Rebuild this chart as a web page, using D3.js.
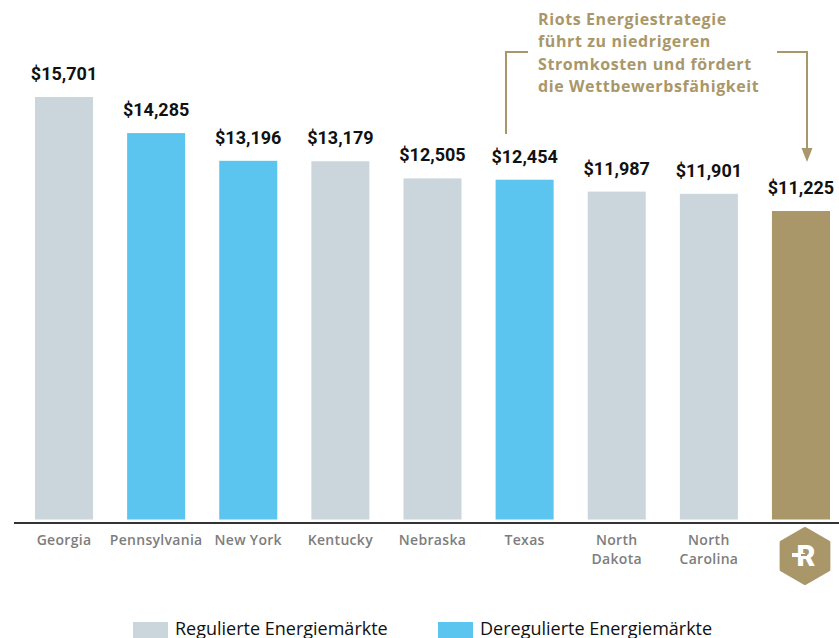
<!DOCTYPE html>
<html lang="de">
<head>
    <meta charset="UTF-8">
    <title>Stromkosten</title>
    <script src="https://d3js.org/d3.v7.min.js"></script>
    <style>
        html, body {
            padding: 0;
            margin: 0;
            background: #fff;
            font-family: "Open Sans", sans-serif;
        }
    </style>
</head>
<body>
<script>
    // daten
    const states = ["Georgia", "Pennsylvania", "New York", "Kentucky", "Nebraska", "Texas", "North Dakota", "North Carolina", "Riot"];
    const costs = [15701, 14285, 13196, 13179, 12505, 12454, 11987, 11901, 11225];
    const market = ["reg", "dereg", "dereg", "reg", "reg", "dereg", "reg", "reg", "riot"];
    const legendLabels = ["Regulierte Energiemärkte", "Deregulierte Energiemärkte"];
    const noteLines = ["Riots Energiestrategie", "führt zu niedrigeren", "Stromkosten und fördert", "die Wettbewerbsfähigkeit"];

    const width = 839, height = 638;
    const colors = {reg: "#cbd6dc", dereg: "#5bc5f0", riot: "#a99769"};
    const gold = "#a99769";

    const svg = d3.select("body").append("svg")
        .attr("width", width)
        .attr("height", height);

    const x = d3.scaleBand()
        .domain(states)
        .range([35, 830])
        .paddingInner(0.37)
        .paddingOuter(0);

    // achse faengt nicht bei null an
    const y = d3.scaleLinear()
        .domain([-884, 15701])
        .range([519.5, 97]);

    svg.append("g")
        .selectAll("rect")
        .data(states)
        .join("rect")
        .attr("x", d => x(d))
        .attr("width", x.bandwidth())
        .attr("y", (d, i) => y(costs[i]))
        .attr("height", (d, i) => y(-884) - y(costs[i]))
        .attr("fill", (d, i) => colors[market[i]]);

    svg.append("g")
        .selectAll("text")
        .data(states)
        .join("text")
        .attr("x", d => x(d) + x.bandwidth() / 2)
        .attr("y", (d, i) => y(costs[i]) - 17)
        .attr("text-anchor", "middle")
        .style("font-family", "Roboto, sans-serif")
        .style("font-size", "18px")
        .style("font-weight", "bold")
        .style("fill", "#111")
        .text((d, i) => "$" + d3.format(",")(costs[i]));

    // x-achse
    svg.append("line")
        .attr("x1", 14).attr("x2", width)
        .attr("y1", 523).attr("y2", 523)
        .attr("stroke", "#333")
        .attr("stroke-width", 2);

    const catLabels = svg.append("g")
        .selectAll("text")
        .data(states.slice(0, 8))
        .join("text")
        .attr("x", d => x(d) + x.bandwidth() / 2)
        .attr("y", 545)
        .attr("text-anchor", "middle")
        .style("font-size", "14px")
        .style("font-weight", 600)
        .style("letter-spacing", "0.3px")
        .style("fill", "#7d7d7d");

    catLabels.each(function(d) {
        const words = d.startsWith("North") ? d.split(" ") : [d];
        d3.select(this).selectAll("tspan")
            .data(words)
            .join("tspan")
            .attr("x", x(d) + x.bandwidth() / 2)
            .attr("dy", (w, i) => i === 0 ? 0 : 19)
            .text(w => w);
    });

    // riot logo
    const cx = x("Riot") + x.bandwidth() / 2 + 4, cy = 556, r = 27;
    const hex = d3.range(6).map(i => {
        const a = Math.PI / 3 * i - Math.PI / 2;
        return [cx + r * Math.cos(a), cy + r * Math.sin(a)];
    });
    svg.append("path")
        .attr("d", d3.line()(hex) + "Z")
        .attr("fill", gold)
        .attr("stroke", gold)
        .attr("stroke-width", 4)
        .attr("stroke-linejoin", "round");
    svg.append("text")
        .attr("x", cx + 1)
        .attr("y", cy + 10)
        .attr("text-anchor", "middle")
        .style("font-family", "Roboto, sans-serif")
        .style("font-size", "29px")
        .style("font-weight", 900)
        .style("fill", "#fff")
        .text("R");
    svg.append("rect")
        .attr("x", cx - 13).attr("y", cy - 3)
        .attr("width", 13).attr("height", 4)
        .attr("fill", "#fff");
    svg.append("rect")
        .attr("x", cx - 4).attr("y", cy - 2)
        .attr("width", 6).attr("height", 2)
        .attr("fill", gold);

    // anmerkung
    svg.append("text")
        .attr("x", 538)
        .attr("y", 25)
        .style("font-size", "16px")
        .style("font-weight", "bold")
        .style("letter-spacing", "0.6px")
        .style("fill", gold)
        .selectAll("tspan")
        .data(noteLines)
        .join("tspan")
        .attr("x", 538)
        .attr("dy", (d, i) => i === 0 ? 0 : 22.3)
        .text(d => d);

    svg.append("path")
        .attr("d", "M506,134V52H528")
        .attr("fill", "none")
        .attr("stroke", gold)
        .attr("stroke-width", 2);
    svg.append("path")
        .attr("d", "M777,52H807V150")
        .attr("fill", "none")
        .attr("stroke", gold)
        .attr("stroke-width", 2);
    svg.append("path")
        .attr("d", "M801.5,148L812.5,148L807,162Z")
        .attr("fill", gold);

    // legende
    const legend = svg.append("g")
        .selectAll("g")
        .data(legendLabels)
        .join("g")
        .attr("transform", (d, i) => `translate(${i === 0 ? 133 : 438},622)`);
    legend.append("rect")
        .attr("width", 35).attr("height", 16)
        .attr("fill", (d, i) => i === 0 ? colors.reg : colors.dereg);
    legend.append("text")
        .attr("x", 42)
        .attr("y", 13)
        .style("font-size", "18px")
        .style("font-weight", 500)
        .style("fill", "#111")
        .text(d => d);
</script>
</body>
</html>
